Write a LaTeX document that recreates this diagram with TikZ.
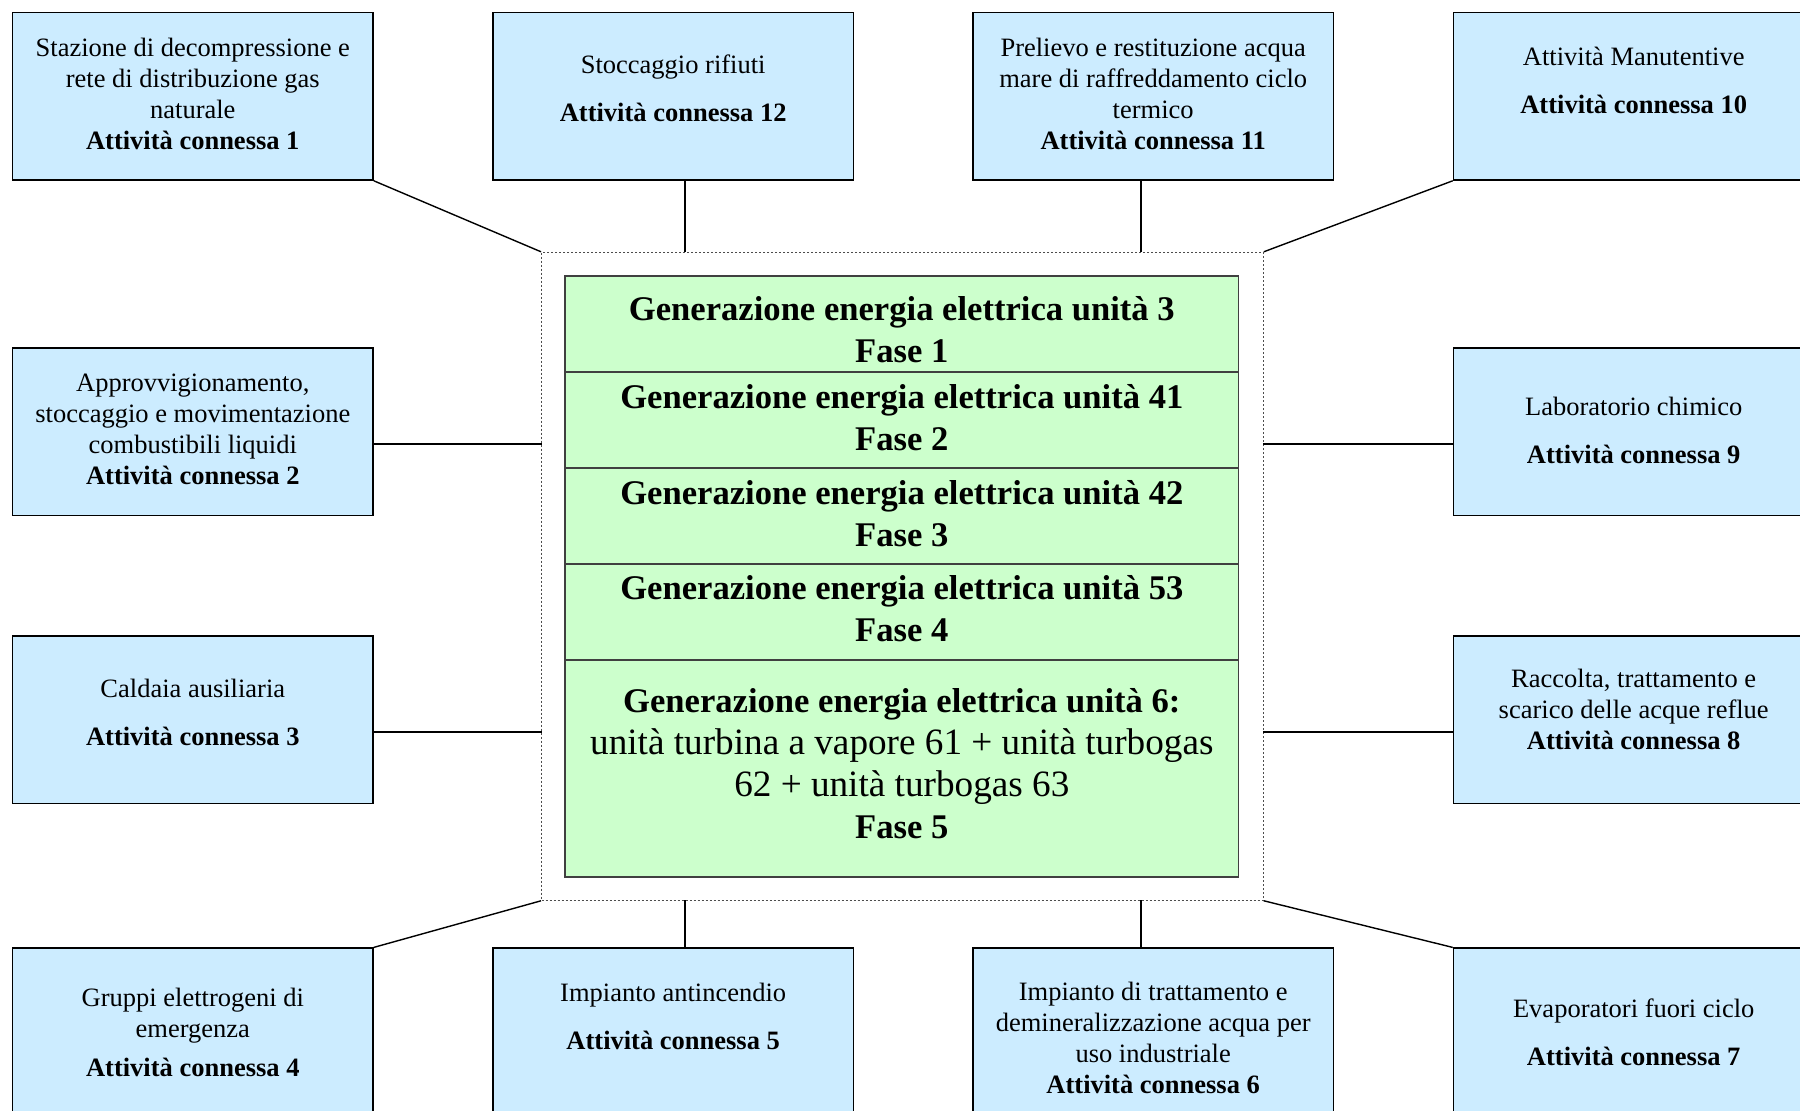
\documentclass[tikz,border=0pt]{standalone}
\usepackage{fontspec}
\setmainfont{Liberation Serif}
\usetikzlibrary{positioning}
\definecolor{attblue}{RGB}{204,236,255}
\definecolor{fasegreen}{RGB}{204,255,204}
\newcommand\regline[1]{{\mdseries\fontsize{18.6}{21}\selectfont #1}}
\newcommand\lowpad[1]{\rule[-#1]{0pt}{#1}}
\newcommand\highpad[1]{\rule{0pt}{#1}}
\begin{document}
\begin{tikzpicture}[x=0.5pt,y=-0.5pt,
  attbox/.style={draw, fill=attblue, line width=0.8pt, minimum width=180.2pt,
    minimum height=83.8pt, inner sep=0pt, align=center,
    font=\fontsize{13.25}{15.5}\selectfont},
  fasebox/.style={draw=black!75, fill=fasegreen, line width=0.9pt,
    minimum width=336.7pt, inner sep=0pt, outer sep=0pt, align=center,
    font=\fontsize{17.3}{21}\selectfont\bfseries},
  dotframe/.style={draw=black!70, line width=0.5pt, dash pattern=on 1pt off 1pt,
    minimum width=360.9pt, minimum height=324pt, inner sep=0pt},
  link/.style={line width=0.7pt}]
\useasboundingbox (0,0) rectangle (1800,1111);
\clip (0,0) rectangle (1800,1111);

% central block
\node[dotframe] (frame) at (902.4,576.3) {};
\node[fasebox, minimum height=48pt] (f1) at (901.8,324)
  {\highpad{17.4pt}Generazione energia elettrica unità 3\\Fase 1};
\node[fasebox, minimum height=48.2pt, below=0pt of f1] (f2)
  {Generazione energia elettrica unità 41\\Fase 2\lowpad{2.3pt}};
\node[fasebox, minimum height=47.7pt, below=0pt of f2] (f3)
  {Generazione energia elettrica unità 42\\Fase 3\lowpad{2.3pt}};
\node[fasebox, minimum height=48.2pt, below=0pt of f3] (f4)
  {Generazione energia elettrica unità 53\\Fase 4\lowpad{3.5pt}};
\node[fasebox, minimum height=108.3pt, below=0pt of f4] (f5)
  {Generazione energia elettrica unità 6:\\
   \regline{unità turbina a vapore 61 + unità turbogas}\\
   \regline{62 + unità turbogas 63}\\Fase 5\lowpad{4.6pt}};

% activity boxes
\node[attbox] (a1) at (192.8,96.2) {Stazione di decompressione e\\rete di distribuzione gas\\naturale\\\textbf{Attività connessa 1}\lowpad{2.3pt}};
\node[attbox] (a12) at (673.2,96.2) {Stoccaggio rifiuti\\[8.5pt]\textbf{Attività connessa 12}\lowpad{8pt}};
\node[attbox] (a11) at (1153.2,96.2) {Prelievo e restituzione acqua\\mare di raffreddamento ciclo\\termico\\\textbf{Attività connessa 11}\lowpad{2.3pt}};
\node[attbox] (a10) at (1633.7,96.2) {Attività Manutentive\\[8.5pt]\textbf{Attività connessa 10}\lowpad{16pt}};
\node[attbox] (a2) at (192.8,431.8) {Approvvigionamento,\\stoccaggio e movimentazione\\combustibili liquidi\\\textbf{Attività connessa 2}\lowpad{2.3pt}};
\node[attbox] (a9) at (1633.7,431.8) {Laboratorio chimico\\[8.5pt]\textbf{Attività connessa 9}\lowpad{1.7pt}};
\node[attbox] (a3) at (192.8,719.8) {Caldaia ausiliaria\\[8.5pt]\textbf{Attività connessa 3}\lowpad{7pt}};
\node[attbox] (a8) at (1633.7,719.8) {Raccolta, trattamento e\\scarico delle acque reflue\\\textbf{Attività connessa 8}\lowpad{10.5pt}};
\node[attbox] (a4) at (192.8,1032) {Gruppi elettrogeni di\\emergenza\\[4pt]\textbf{Attività connessa 4}};
\node[attbox] (a5) at (673.2,1032) {Impianto antincendio\\[8.5pt]\textbf{Attività connessa 5}\lowpad{16pt}};
\node[attbox] (a6) at (1153.2,1032) {\highpad{14.8pt}Impianto di trattamento e\\demineralizzazione acqua per\\uso industriale\\\textbf{Attività connessa 6}};
\node[attbox] (a7) at (1633.7,1032) {Evaporatori fuori ciclo\\[8.5pt]\textbf{Attività connessa 7}};

% connection points on the frame
\coordinate (top1) at (685,252.3);
\coordinate (top2) at (1141,252.3);
\coordinate (bot1) at (685,900.3);
\coordinate (bot2) at (1141,900.3);
\coordinate (left1) at (541.5,444);
\coordinate (left2) at (541.5,732);
\coordinate (right1) at (1263.3,444);
\coordinate (right2) at (1263.3,732);

\draw[link] (a1.south east) -- (frame.north west);
\draw[link] (a12.south -| top1) -- (top1);
\draw[link] (a11.south -| top2) -- (top2);
\draw[link] (a10.south west) -- (frame.north east);
\draw[link] (a2.east |- left1) -- (left1);
\draw[link] (a3.east |- left2) -- (left2);
\draw[link] (a9.west |- right1) -- (right1);
\draw[link] (a8.west |- right2) -- (right2);
\draw[link] (a4.north east) -- (frame.south west);
\draw[link] (a5.north -| bot1) -- (bot1);
\draw[link] (a6.north -| bot2) -- (bot2);
\draw[link] (a7.north west) -- (frame.south east);
\end{tikzpicture}
\end{document}
